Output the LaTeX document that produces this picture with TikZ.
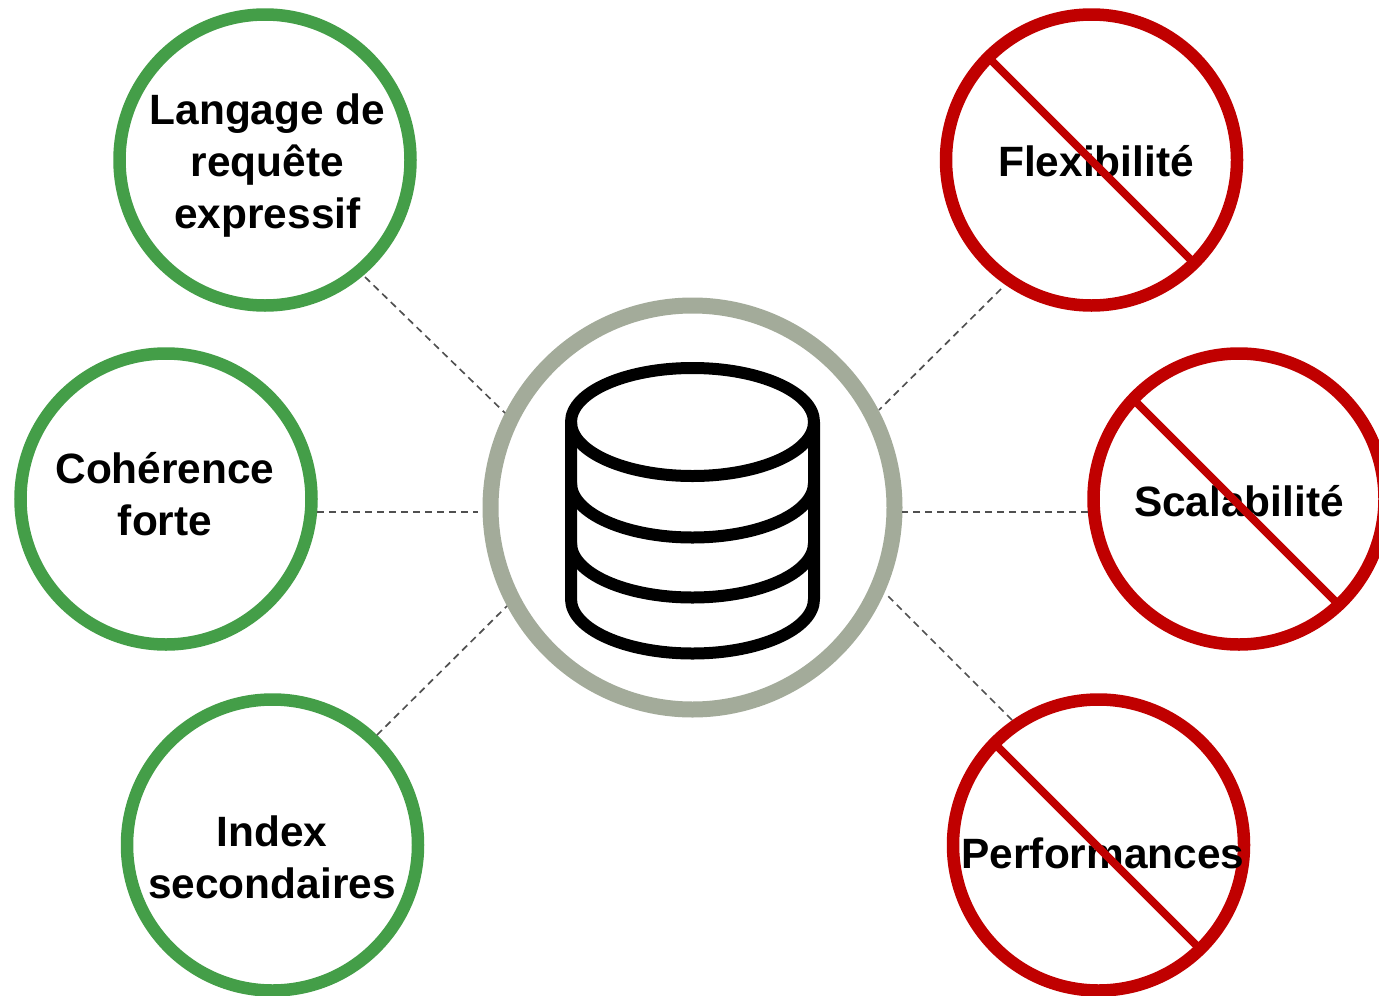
\documentclass[tikz,border=0pt]{standalone}
\usepackage{fontspec}
\setmainfont{Liberation Sans}
\definecolor{okgreen}{HTML}{449E48}
\definecolor{nored}{HTML}{C00000}
\definecolor{hubgray}{HTML}{A3AB9A}
\definecolor{linkgray}{HTML}{505050}
\tikzset{
  x=1pt,y=-1pt,
  lbl/.style={font=\fontsize{42.4}{52}\selectfont\bfseries,align=center,inner sep=0pt},
  okring/.style={circle,draw=okgreen,line width=12.5pt,minimum size=291pt,inner sep=0pt},
  noring/.style={circle,draw=nored,line width=12.5pt,minimum size=291pt,inner sep=0pt},
  hubring/.style={circle,draw=hubgray,line width=16pt,minimum size=404pt,inner sep=0pt},
  link/.style={draw=linkgray,line width=1.7pt,dash pattern=on 7pt off 5pt},
  slash/.style={draw=nored,line width=8pt},
  db/.style={draw=black,line width=12pt,line join=round}
}
\begin{document}
\begin{tikzpicture}
\useasboundingbox (0,0) rectangle (1379,996);
\node[hubring] (hub) at (692.5,507.5) {};
\node[okring] (g1) at (265,160) {};
\node[okring] (g2) at (166,499) {};
\node[okring] (g3) at (272.5,845) {};
\node[noring] (r1) at (1091.5,160) {};
\node[noring] (r2) at (1239,499) {};
\node[noring] (r3) at (1098.5,845) {};
\node[lbl] (t1) at (267.5,166) {Langage de\\requête\\expressif};
\node[lbl] (t2) at (165,494) {Cohérence\\forte};
\node[lbl] (t3) at (272,857) {Index\\secondaires};
\node[lbl] (t4) at (1096,161) {Flexibilité};
\node[lbl] (t5) at (1239,501) {Scalabilité};
\node[lbl] (t6) at (1103,853) {Performances};
% connectors
\coordinate (c1a) at (365,277); \coordinate (c1b) at (505,413);
\coordinate (c2a) at (317,512); \coordinate (c2b) at (478,512);
\coordinate (c3a) at (377,735); \coordinate (c3b) at (507,606);
\coordinate (c4a) at (1001,289); \coordinate (c4b) at (879,410);
\coordinate (c5a) at (1088,512); \coordinate (c5b) at (902,512);
\coordinate (c6a) at (1012,720); \coordinate (c6b) at (886,594);
\draw[link] (c1a) -- (c1b);
\draw[link] (c2a) -- (c2b);
\draw[link] (c3a) -- (c3b);
\draw[link] (c4a) -- (c4b);
\draw[link] (c5a) -- (c5b);
\draw[link] (c6a) -- (c6b);
% slashes
\coordinate (s1a) at (989,58); \coordinate (s1b) at (1194,263);
\coordinate (s2a) at (1131,397); \coordinate (s2b) at (1337,603);
\coordinate (s3a) at (995,744); \coordinate (s3b) at (1200,949);
\draw[slash] (s1a) -- (s1b);
\draw[slash] (s2a) -- (s2b);
\draw[slash] (s3a) -- (s3b);
% database icon
\draw[db] (692.5,422) ellipse[x radius=121.5,y radius=54];
\draw[db] (571,422) -- (571,599) arc[start angle=180,end angle=0,x radius=121.5,y radius=54.5] -- (814,422);
\draw[db] (571,483) arc[start angle=180,end angle=0,x radius=121.5,y radius=54.5];
\draw[db] (571,543) arc[start angle=180,end angle=0,x radius=121.5,y radius=54.5];
\end{tikzpicture}
\end{document}
